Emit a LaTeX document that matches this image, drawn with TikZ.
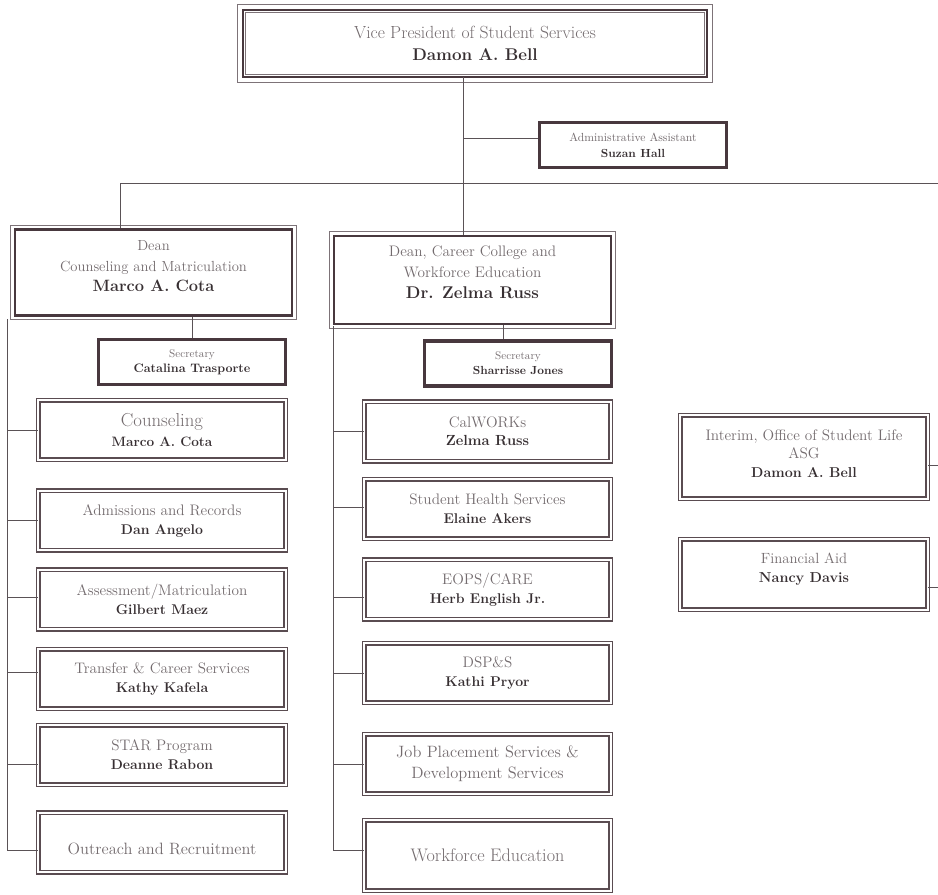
\documentclass[tikz,border=0pt]{standalone}
\definecolor{framedark}{RGB}{72,56,62}
\definecolor{framegray}{RGB}{125,115,120}
\definecolor{linegray}{RGB}{90,82,86}
\definecolor{titlegray}{RGB}{115,107,110}
\definecolor{namedark}{RGB}{55,47,50}
\newcommand{\px}{0.03cm}
\newcommand{\who}[2]{{\fontsize{#1}{#1}\selectfont\bfseries\color{namedark}#2}}
\tikzset{
  conn/.style={draw=linegray, line width=0.85pt},
  thinframe/.style={draw=framegray, line width=0.8pt},
  orgtext/.style={align=center, inner sep=0pt, text=titlegray},
  vp-box/.style={orgtext, draw=framedark, line width=1.9pt},
  dean-box/.style={
    orgtext,
    draw=framedark,
    line width=2.5pt,
    minimum width=277*\px,
    minimum height=86*\px
  },
  sec-box/.style={
    orgtext,
    draw=framedark,
    line width=2.8pt,
    minimum width=187*\px,
    minimum height=45*\px,
    font=\fontsize{9.5}{12.8}\selectfont
  },
  unit-box/.style={
    orgtext,
    draw=framedark!90,
    double,
    double distance=2pt,
    line width=1pt,
    minimum width=247.6*\px,
    minimum height=59.6*\px,
    font=\fontsize{13}{16.2}\selectfont
  }
}

\begin{document}
\begin{tikzpicture}[x=\px, y=-\px]
  \useasboundingbox (0,0) rectangle (938,895);
  % vice president and assistant
  \node[vp-box, minimum width=464*\px, minimum height=67*\px,
    font=\fontsize{15}{18.8}\selectfont] (vp) at (475,43.5)
    {Vice President of Student Services\\\who{14.5}{Damon A. Bell}};
  \draw[thinframe] ([shift={(-4,4)}]vp.south west) rectangle ([shift={(4,-4)}]vp.north east);
  \draw[thinframe] ([shift={(4,-4)}]vp.south west) rectangle ([shift={(-4,4)}]vp.north east);
  \node[sec-box, font=\fontsize{10}{13.6}\selectfont, text depth=0pt] (admin) at (633,145)
    {Administrative Assistant\\\who{10}{Suzan Hall}};

  % deans
  \node[dean-box, font=\fontsize{12.5}{17.5}\selectfont, text depth=11pt] (dean1) at (153.5,272.5)
    {Dean\\Counseling and Matriculation\\\who{14}{Marco A. Cota}};
  \node[dean-box, minimum height=88*\px, font=\fontsize{13}{18}\selectfont, text depth=13pt]
    (dean2) at (472.5,280)
    {Dean, Career College and\\Workforce Education\\\who{14.5}{Dr. Zelma Russ}};
  \foreach \d in {dean1,dean2}
    \draw[thinframe] ([shift={(-3,3)}]\d.south west) rectangle ([shift={(3,-3)}]\d.north east);
  \node[sec-box] (sec1) at (192,362) {Secretary\\\who{10.5}{Catalina Trasporte}};
  \node[sec-box] (sec2) at (518,363.5) {Secretary\\\who{10}{Sharrisse Jones}};

  % counseling column
  \node[unit-box, font=\fontsize{16}{17}\selectfont] (couns) at (162,430)
    {Counseling\\\who{11.6}{Marco A. Cota}};
  \node[unit-box] (admrec) at (162,520.5) {Admissions and Records\\\who{12}{Dan Angelo}};
  \node[unit-box] (assess) at (162,599.5) {Assessment/Matriculation\\\who{12}{Gilbert Maez}};
  \node[unit-box] (transfer) at (162,679) {Transfer \& Career Services\\\who{12}{Kathy Kafela}};
  \node[unit-box] (star) at (162,755) {STAR Program\\\who{12}{Deanne Rabon}};
  \node[unit-box, font=\fontsize{14}{16}\selectfont, text height=21pt, text depth=0pt]
    (outreach) at (162,842.5) {Outreach and Recruitment};

  % career college column
  \node[unit-box, minimum width=246.6*\px, font=\fontsize{13}{15.4}\selectfont] (calworks) at (487.5,431.5)
    {CalWORKs\\\who{12.5}{Zelma Russ}};
  \node[unit-box, minimum width=246.6*\px] (health) at (487.5,509)
    {Student Health Services\\\who{12}{Elaine Akers}};
  \node[unit-box, minimum width=246.6*\px] (eops) at (487.5,589.5)
    {EOPS/CARE\\\who{12}{Herb English Jr.}};
  \node[unit-box, minimum width=246.6*\px] (dsps) at (487.5,673)
    {DSP\&S\\\who{12}{Kathi Pryor}};
  \node[unit-box, minimum width=246.6*\px, font=\fontsize{14}{18}\selectfont] (jobs) at (487.5,764)
    {Job Placement Services \&\\Development Services};
  \node[unit-box, minimum width=246.6*\px, minimum height=70.6*\px, font=\fontsize{15.5}{18}\selectfont]
    (wfe) at (487.5,855.5) {Workforce Education};

  % right column
  \node[unit-box, minimum height=83.6*\px, font=\fontsize{13}{16}\selectfont, text depth=6pt]
    (studlife) at (804,457)
    {Interim, Office of Student Life\\ASG\\\who{12.2}{Damon A. Bell}};
  \node[unit-box, minimum height=70.6*\px, font=\fontsize{12.6}{16.2}\selectfont, text depth=11pt]
    (finaid) at (804,574.5)
    {Financial Aid\\\who{12.3}{Nancy Davis}};

  % connectors
  \coordinate (trunk) at (463,77);
  \coordinate (busL) at (120,183);
  \coordinate (busR) at (942,183);
  \coordinate (spineL) at (7,319);
  \coordinate (spineM) at (333,326);
  \coordinate (spineR) at (942,465);
  \coordinate (tapM) at ([shift={(-15,0)}]sec2.north);
  \draw[conn] (trunk) -- (trunk |- dean2.north);
  \draw[conn] (trunk) |- ([shift={(0,-7)}]admin.west);
  \draw[conn] (busR) -- (busL) -- (busL |- dean1.north);
  \draw[conn] (sec1.north |- dean1.south) -- (sec1.north);
  \draw[conn] (tapM |- dean2.south) -- (tapM);
  \foreach \b/\dy in {couns/0,admrec/0,assess/-2,transfer/-7,star/9,outreach/7.5}
    \draw[conn] (spineL) |- ([shift={(0,\dy)}]\b.west);
  \foreach \b/\dy in {calworks/0,health/-2,eops/7.5,dsps/0,jobs/0,wfe/-5.5}
    \draw[conn] (spineM) |- ([shift={(0,\dy)}]\b.west);
  \foreach \b/\dy in {studlife/8,finaid/12.5}
    \draw[conn] (spineR) |- ([shift={(0,\dy)}]\b.east);
\end{tikzpicture}
\end{document}
